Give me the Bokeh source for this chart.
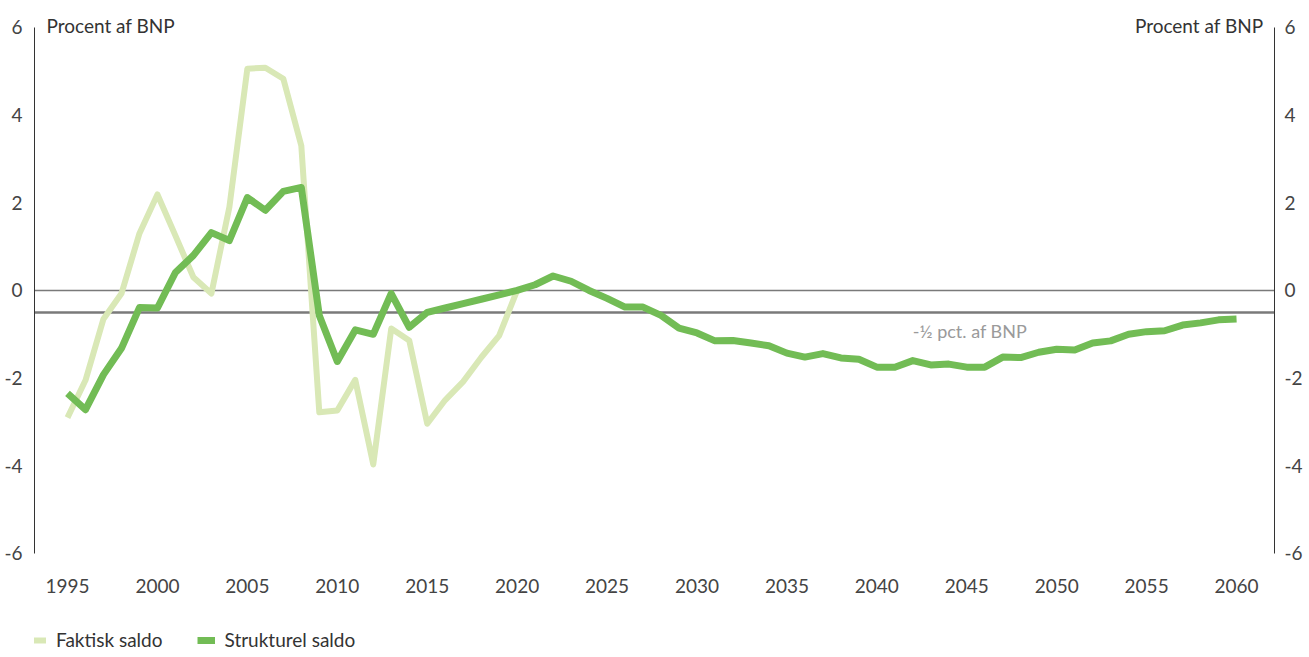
from bokeh.plotting import figure
from bokeh.models import (Range1d, LinearAxis, Span, Label, Legend, LegendItem,
                          FixedTicker, CustomJSTickFormatter)
from bokeh.core.properties import value
from bokeh.embed import file_html
from bokeh.resources import INLINE

# ---- data ----
years_faktisk = list(range(1995, 2021))
faktisk_saldo = [-2.9, -2.05, -0.65, -0.07, 1.3, 2.19, 1.25, 0.3, -0.07, 1.9,
                 5.06, 5.08, 4.83, 3.3, -2.78, -2.74, -2.04, -3.97, -0.87, -1.14,
                 -3.04, -2.5, -2.08, -1.53, -1.03, 0.0]

years_struktur = list(range(1995, 2061))
strukturel_saldo = [-2.35, -2.72, -1.92, -1.32, -0.39, -0.4, 0.41, 0.8, 1.32, 1.14,
                    2.12, 1.83, 2.26, 2.35, -0.57, -1.62, -0.9, -1.0, -0.07, -0.84,
                    -0.5, -0.4, -0.3, -0.2, -0.1, 0.0, 0.13, 0.33, 0.21, 0.0,
                    -0.18, -0.38, -0.38, -0.57, -0.86, -0.97, -1.15, -1.14, -1.2, -1.26,
                    -1.43, -1.52, -1.44, -1.54, -1.57, -1.75, -1.75, -1.6, -1.7, -1.68,
                    -1.75, -1.75, -1.52, -1.53, -1.41, -1.34, -1.36, -1.2, -1.15, -1.0,
                    -0.94, -0.92, -0.79, -0.74, -0.67, -0.65]

x_ticks = [1995, 2000, 2005, 2010, 2015, 2020, 2025, 2030, 2035, 2040, 2045,
           2050, 2055, 2060]
x_tick_labels = [str(t) for t in x_ticks]
y_ticks = [-6, -4, -2, 0, 2, 4, 6]
y_min, y_max = -6, 6
target_level = -0.5
unit_label = "Procent af BNP"
target_label = "-½ pct. af BNP"
series_names = ["Faktisk saldo", "Strukturel saldo"]

FONT = "Lato"
LIGHT = "#d9e8b6"
DARK = "#72bc55"
TXT = "#444444"

# frame spans the whole canvas height; the y axes are bounded to -6..6
p = figure(frame_width=1240, frame_height=642, output_backend="svg",
           toolbar_location=None,
           x_range=Range1d(1993.165, 2062.11), y_range=Range1d(-8.237, 6.41),
           min_border_left=34, min_border_right=19, min_border_top=9,
           min_border_bottom=0)
p.outline_line_color = None
p.grid.visible = False
p.background_fill_color = "white"
p.border_fill_color = "white"
p.xaxis.visible = False

def style_y(ax):
    ax.ticker = FixedTicker(ticks=y_ticks)
    ax.bounds = (y_min, y_max)
    ax.formatter = CustomJSTickFormatter(code="return tick.toString();")
    ax.axis_line_color = "#333333"
    ax.axis_line_width = 1
    ax.major_tick_line_color = None
    ax.minor_tick_line_color = None
    ax.major_tick_out = 0
    ax.major_tick_in = 0
    ax.major_label_standoff = 12
    ax.major_label_text_font = FONT
    ax.major_label_text_font_size = "19px"
    ax.major_label_text_color = TXT

style_y(p.yaxis[0])
right_axis = LinearAxis()
style_y(right_axis)
right_axis.major_label_standoff = 10
p.add_layout(right_axis, "right")

# x tick labels, placed under the -6 line through the x scale
p.text(x=x_ticks, y=[y_min] * len(x_ticks), text=x_tick_labels,
       text_font=value(FONT), text_font_size="19px", text_color=TXT,
       text_align="center", text_baseline="middle", y_offset=33)

# reference lines
p.add_layout(Span(location=0, dimension="width", line_color="#7a7a7a",
                  line_width=1.5, level="underlay"))
p.add_layout(Span(location=target_level, dimension="width", line_color="#7a7a7a",
                  line_width=2.5, level="underlay"))

# series
r1 = p.line(years_faktisk, faktisk_saldo, line_color=LIGHT, line_width=6,
            line_join="round")
r2 = p.line(years_struktur, strukturel_saldo, line_color=DARK, line_width=7,
            line_join="round")

# labels
p.add_layout(Label(x=1993.83, y=6.05, text=unit_label, text_font=FONT,
                   text_font_size="19px", text_color="#333333",
                   text_baseline="middle", text_align="left"))
p.add_layout(Label(x=2061.5, y=6.05, text=unit_label, text_font=FONT,
                   text_font_size="19px", text_color="#333333",
                   text_baseline="middle", text_align="right"))
p.add_layout(Label(x=2042.0, y=-0.68, text=target_label, text_font=FONT,
                   text_font_size="18px", text_color="#9a9a9a",
                   text_baseline="top", text_align="left"))

legend = Legend(items=[LegendItem(label=series_names[0], renderers=[r1]),
                       LegendItem(label=series_names[1], renderers=[r2])],
                orientation="horizontal", location=(-6, 0),
                label_text_font=FONT, label_text_font_size="19px",
                label_text_color="#333333", glyph_width=18, glyph_height=12,
                label_standoff=10, spacing=34, padding=0, margin=0,
                border_line_alpha=0, background_fill_alpha=0)
p.add_layout(legend, "center")

open("out.html", "w").write(file_html(p, INLINE))
